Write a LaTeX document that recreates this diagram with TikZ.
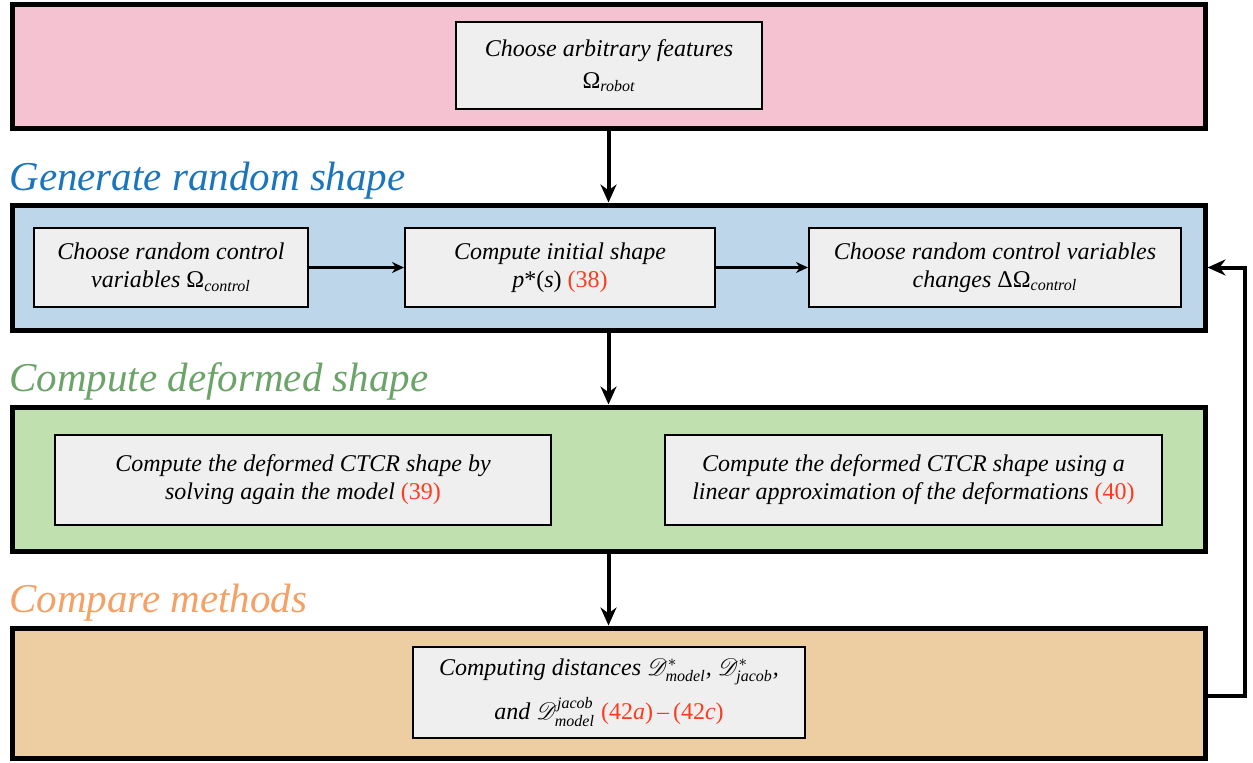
\documentclass[tikz,border=0pt]{standalone}
\usepackage{amsmath}
\usepackage{mathrsfs}
\usepackage{fontspec}
\setmainfont{LiberationSerif}[Extension=.ttf, UprightFont=*-Regular, ItalicFont=*-Italic, BoldFont=*-Bold, BoldItalicFont=*-BoldItalic]
\usetikzlibrary{arrows.meta}
\definecolor{pinkband}{HTML}{F4C2D0}
\definecolor{blueband}{HTML}{BED6EA}
\definecolor{greenband}{HTML}{C0E0B0}
\definecolor{orangeband}{HTML}{EDCDA2}
\definecolor{boxgray}{HTML}{EFEFEF}
\definecolor{bluelabel}{HTML}{1A75BC}
\definecolor{greenlabel}{HTML}{6BA368}
\definecolor{orangelabel}{HTML}{F5A064}
\definecolor{refred}{HTML}{FF3A1E}
\newcommand{\eqr}[1]{\textcolor{refred}{\upshape #1}}
\newcommand{\Om}{{\upshape Ω}}
\tikzset{
  band/.style={draw=black, line width=2.5pt, minimum width=596.5pt},
  stepbox/.style={draw=black, line width=1pt, fill=boxgray, align=center,
    font=\itshape\fontsize{12}{14}\selectfont, inner sep=2pt},
  steplabel/.style={anchor=base west, font=\itshape\fontsize{20.5}{24}\selectfont, inner sep=0pt},
  flow/.style={line width=2pt, -{Stealth[length=9pt,width=8pt]}},
  thin flow/.style={line width=1.1pt, -{Stealth[length=6pt,width=5.5pt]}}
}
\begin{document}
\begin{tikzpicture}[x=0.5pt,y=-0.5pt]
\useasboundingbox (0,0) rectangle (1253,762);
% bands
\node[band, fill=pinkband, minimum height=62pt] (pink) at (608.5,66) {};
\node[band, fill=blueband, minimum height=62.5pt] (blue) at (608.5,267.5) {};
\node[band, fill=greenband, minimum height=72pt] (green) at (608.5,479) {};
\node[band, fill=orangeband, minimum height=65pt] (orange) at (608.5,693) {};
% labels
\node[steplabel, text=bluelabel] (lgen) at (9,190) {Generate random shape};
\node[steplabel, text=greenlabel] (ldef) at (9,391) {Compute deformed shape};
\node[steplabel, text=orangelabel] (lcmp) at (9,612) {Compare methods};
% inner boxes
\node[stepbox, minimum width=153pt, minimum height=43.5pt] (b0) at (609,65.5)
  {Choose arbitrary features\\[2pt] \Om\textsubscript{robot}};
\node[stepbox, minimum width=137pt, minimum height=39.5pt] (b1) at (171,267.5)
  {Choose random control\\ variables \Om\textsubscript{control}};
\node[stepbox, minimum width=155pt, minimum height=39.5pt] (b2) at (560,267.5)
  {Compute initial shape\\ \textit{p}{\upshape *(}\textit{s}{\upshape )} \eqr{(38)}};
\node[stepbox, minimum width=186pt, minimum height=39.5pt] (b3) at (995,267.5)
  {Choose random control variables\\ changes {\upshape ΔΩ}\textsubscript{control}};
\node[stepbox, minimum width=248pt, minimum height=45pt] (b4) at (303,480)
  {Compute the deformed CTCR shape by\\ solving again the model \eqr{(39)}};
\node[stepbox, minimum width=248.5pt, minimum height=45pt] (b5) at (913.5,480)
  {Compute the deformed CTCR shape using a\\ linear approximation of the deformations \eqr{(40)}};
\node[stepbox, minimum width=196pt, minimum height=45.5pt] (b6) at (609,692.5)
  {Computing distances $\mathscr{D}^{*}_{\textit{model}}$, $\mathscr{D}^{*}_{\textit{jacob}}$,\\[5pt]
   and $\mathscr{D}^{\textit{jacob}}_{\textit{model}}$ \eqr{(42\textit{a})\,–\,(42\textit{c})}};
% connectors
\draw[flow] (pink.south) -- (blue.north);
\draw[flow] (blue.south) -- (green.north);
\draw[flow] (green.south) -- (orange.north);
\draw[thin flow] (b1.east) -- (b2.west);
\draw[thin flow] (b2.east) -- (b3.west);
\coordinate (fbr) at (1245,696);
\draw[flow] (orange.east |- fbr) -- (fbr) |- (blue.east);
\end{tikzpicture}
\end{document}
